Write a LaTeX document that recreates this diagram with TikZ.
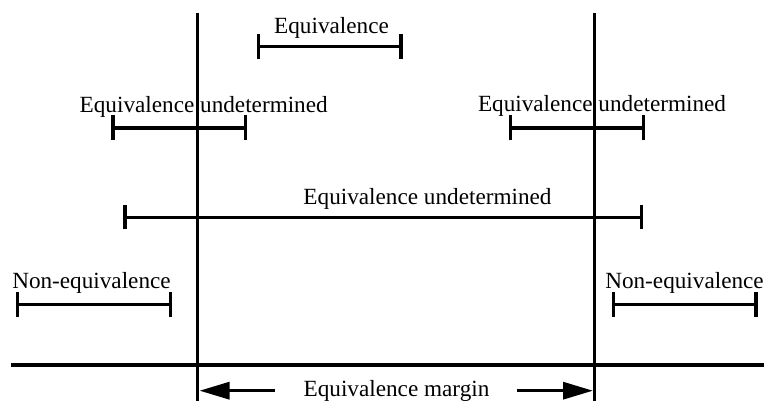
\documentclass[tikz,border=0pt]{standalone}
\usepackage{fontspec}
\setmainfont{Liberation Serif}
\usetikzlibrary{arrows.meta}
\begin{document}
\begin{tikzpicture}[x=1pt,y=-1pt,
  ln/.style={line width=3.2pt},
  lab/.style={inner sep=0pt,anchor=base,font=\fontsize{23.2}{28}\selectfont},
  tk/.style={line width=3.2pt},
  arr/.style={line width=3.2pt,-{Triangle[length=30pt,width=17pt]}}]
\useasboundingbox (0,0) rectangle (764,401);
% margin lines and axis
\coordinate (vl1) at (197.8,13.5);
\coordinate (vl2) at (197.8,405);
\coordinate (vr1) at (594.8,13.5);
\coordinate (vr2) at (594.8,405);
\coordinate (ax1) at (11,365);
\coordinate (ax2) at (766,365);
\draw[ln] (vl1) -- (vl2);
\draw[ln] (vr1) -- (vr2);
\draw[ln] (ax1) -- (ax2);
% intervals
\newcommand{\interval}[5]{%
  \coordinate (#1a) at (#2,#4);
  \coordinate (#1b) at (#3,#4);
  \draw[ln] (#1a) -- (#1b);
  \draw[tk] ([yshift=-12.5pt]#1a) -- ([yshift=12.5pt]#1a);
  \draw[tk] ([yshift=-12.5pt]#1b) -- ([yshift=12.5pt]#1b);
  \node[lab] (#1t) at (#5) {};}
% Equivalence
\coordinate (eqa) at (258.5,46.5);
\coordinate (eqb) at (401,46.5);
\draw[ln] (eqa) -- (eqb);
\draw[tk] ([yshift=-12.5pt]eqa) -- ([yshift=12.5pt]eqa);
\draw[tk] ([yshift=-12.5pt]eqb) -- ([yshift=12.5pt]eqb);
\node[lab] (eqt) at (331.5,33.3) {Equivalence};
% undetermined left
\coordinate (ula) at (113,128);
\coordinate (ulb) at (245.7,128);
\draw[ln] (ula) -- (ulb);
\draw[tk] ([yshift=-12.5pt]ula) -- ([yshift=12.5pt]ula);
\draw[tk] ([yshift=-12.5pt]ulb) -- ([yshift=12.5pt]ulb);
\node[lab] (ult) at (203.7,112.5) {Equivalence undetermined};
% undetermined right
\coordinate (ura) at (510.7,128);
\coordinate (urb) at (643.3,128);
\draw[ln] (ura) -- (urb);
\draw[tk] ([yshift=-12.5pt]ura) -- ([yshift=12.5pt]ura);
\draw[tk] ([yshift=-12.5pt]urb) -- ([yshift=12.5pt]urb);
\node[lab] (urt) at (602,111.8) {Equivalence undetermined};
% undetermined long
\coordinate (uwa) at (125,217.5);
\coordinate (uwb) at (641.7,217.5);
\draw[ln] (uwa) -- (uwb);
\draw[tk] ([yshift=-12pt]uwa) -- ([yshift=12pt]uwa);
\draw[tk] ([yshift=-12pt]uwb) -- ([yshift=12pt]uwb);
\node[lab] (uwt) at (427.5,205) {Equivalence undetermined};
% non-equivalence left
\coordinate (nla) at (17.5,304.3);
\coordinate (nlb) at (170.7,304.3);
\draw[ln] (nla) -- (nlb);
\draw[tk] ([yshift=-12.3pt]nla) -- ([yshift=12.3pt]nla);
\draw[tk] ([yshift=-12.3pt]nlb) -- ([yshift=12.3pt]nlb);
\node[lab] (nlt) at (91.5,288) {Non-equivalence};
% non-equivalence right
\coordinate (nra) at (613.3,304.3);
\coordinate (nrb) at (756,304.3);
\draw[ln] (nra) -- (nrb);
\draw[tk] ([yshift=-12.3pt]nra) -- ([yshift=12.3pt]nra);
\draw[tk] ([yshift=-12.3pt]nrb) -- ([yshift=12.3pt]nrb);
\node[lab] (nrt) at (684.5,288) {Non-equivalence};
% equivalence margin
\node[lab] (mt) at (396.5,396) {Equivalence margin};
\coordinate (mla) at (275,390.7);
\coordinate (mlb) at (199.5,390.7);
\coordinate (mra) at (516.7,390.7);
\coordinate (mrb) at (593,390.7);
\draw[arr] (mla) -- (mlb);
\draw[arr] (mra) -- (mrb);
\end{tikzpicture}
\end{document}
